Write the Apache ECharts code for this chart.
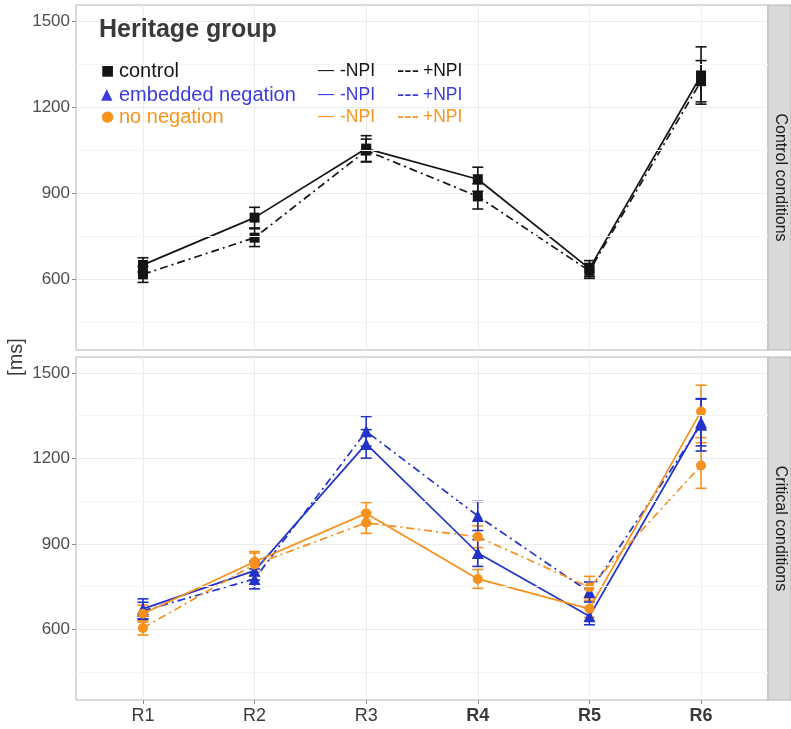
<!DOCTYPE html>
<html><head><meta charset="utf-8">
<script src="https://cdn.jsdelivr.net/npm/echarts@6/dist/echarts.min.js"></script>
<style>html,body{margin:0;padding:0;background:#fff}#c{width:791px;height:729px}</style>
</head><body><div id="c"></div>
<script>
// ---------- data ----------
const regions = ['R1','R2','R3','R4','R5','R6'];
const boldRegions = ['R4','R5','R6'];
const regionX = [1,2,3,4,5,6];
const yTicks = [600,900,1200,1500];
const yMinor = [450,750,1050,1350];
const panelTitles = ['Control conditions','Critical conditions'];
const yTitle = '[ms]';
const legendTitle = 'Heritage group';
const legendGroups = ['control','embedded negation','no negation'];
const legendGlyphs = ['■','▲','●'];
const legendLineNames = ['-NPI','+NPI'];
const legendLineKeys = ['—','---'];

// top panel: control condition
const ctrlMinus = [649, 814, 1055, 948, 636, 1310];
const ctrlMinusErr = [25, 36, 45, 42, 28, 100];
const ctrlPlus = [616, 744, 1048, 888, 628, 1290];
const ctrlPlusErr = [28, 31, 40, 44, 26, 72];
// bottom panel: embedded negation
const embMinus = [672, 806, 1251, 868, 646, 1326];
const embMinusErr = [35, 33, 50, 47, 30, 82];
const embPlus = [665, 777, 1295, 998, 731, 1318];
const embPlusErr = [30, 35, 52, 51, 35, 92];
// bottom panel: no negation
const noMinus = [655, 837, 1007, 777, 672, 1365];
const noMinusErr = [30, 36, 38, 33, 30, 92];
const noPlus = [605, 828, 974, 925, 748, 1175];
const noPlusErr = [25, 40, 37, 38, 38, 80];

// ---------- styling ----------
const C_BLACK = '#141414', C_BLUE = '#2233c8', C_ORANGE = '#f7901c';
const C_BLUE_TXT = '#3b3bdc', C_ORANGE_TXT = '#f7941d';
const FONT = 'Liberation Sans, Arial, sans-serif';
const DOTDASH = [8, 4, 2, 4];

const chart = echarts.init(document.getElementById('c'), null, {renderer: 'canvas'});

function pts(vals){ return vals.map((v,i)=>[regionX[i], v]); }
function errs(vals, e){ return vals.map((v,i)=>[regionX[i], v - e[i], v + e[i]]); }

function lineSeries(name, grid, vals, color, symbol, size, dashed){
  return {
    name, type: 'line', xAxisIndex: grid, yAxisIndex: grid,
    data: pts(vals), symbol, symbolSize: size,
    itemStyle: {color}, lineStyle: {color, width: 1.7, type: dashed ? DOTDASH : 'solid'},
    z: 4, silent: true, animation: false
  };
}
function errSeries(grid, vals, e, color){
  return {
    type: 'custom', xAxisIndex: grid, yAxisIndex: grid, data: errs(vals, e), z: 3,
    silent: true, animation: false,
    renderItem: function(params, api){
      const x = api.value(0), lo = api.value(1), hi = api.value(2);
      const a = api.coord([x, hi]), b = api.coord([x, lo]);
      const w = 5.5;
      const st = {stroke: color, lineWidth: 1.6, fill: null};
      return {type: 'group', children: [
        {type:'line', shape:{x1:a[0], y1:a[1], x2:b[0], y2:b[1]}, style: st},
        {type:'line', shape:{x1:a[0]-w, y1:a[1], x2:a[0]+w, y2:a[1]}, style: st},
        {type:'line', shape:{x1:b[0]-w, y1:b[1], x2:b[0]+w, y2:b[1]}, style: st}
      ]};
    }
  };
}
function minorSeries(grid){
  return {
    type: 'line', xAxisIndex: grid, yAxisIndex: grid, data: [], z: 1, silent: true,
    markLine: {silent: true, symbol: 'none', label: {show: false}, animation: false,
      lineStyle: {color: '#f4f4f4', width: 1, type: 'solid'},
      data: yMinor.map(v => ({yAxis: v}))}
  };
}

const grids = [
  {left: 76, top: 5, right: 23, height: 345, show: true, borderColor: '#b5b5b5', borderWidth: 1, backgroundColor: '#fff'},
  {left: 76, top: 357, right: 23, height: 343, show: true, borderColor: '#b5b5b5', borderWidth: 1, backgroundColor: '#fff'}
];

function xAxis(grid, showLabels){
  return {
    type: 'value', gridIndex: grid, min: 0.4, max: 6.6,
    axisLine: {show: false},
    axisTick: {show: showLabels, length: 4, lineStyle: {color: '#8a8a8a'}, customValues: regionX},
    axisLabel: {show: showLabels, customValues: regionX, margin: 7,
      formatter: function(v){ const r = regions[Math.round(v)-1]; return boldRegions.includes(r) ? '{b|'+r+'}' : '{n|'+r+'}'; },
      rich: {n: {fontSize: 18, color: '#3a3a3a', fontFamily: FONT}, b: {fontSize: 18, fontWeight: 'bold', color: '#3a3a3a', fontFamily: FONT}}},
    splitLine: {show: true, lineStyle: {color: '#ebebeb', width: 1}}
  };
}
function yAxis(grid){
  return {
    type: 'value', gridIndex: grid, min: 352, max: 1556,
    axisLine: {show: false},
    axisTick: {show: true, length: 4, lineStyle: {color: '#8a8a8a'}, customValues: yTicks},
    axisLabel: {customValues: yTicks, fontSize: 17, color: '#4d4d4d', fontFamily: FONT, margin: 6,
      formatter: function(v){ return String(Math.round(v)); }},
    splitLine: {show: true, lineStyle: {color: '#ebebeb', width: 1}}
  };
}

const series = [
  minorSeries(0), minorSeries(1),
  errSeries(0, ctrlMinus, ctrlMinusErr, C_BLACK),
  errSeries(0, ctrlPlus, ctrlPlusErr, C_BLACK),
  lineSeries('control -NPI', 0, ctrlMinus, C_BLACK, 'rect', 10, false),
  lineSeries('control +NPI', 0, ctrlPlus, C_BLACK, 'rect', 10, true),
  errSeries(1, noMinus, noMinusErr, C_ORANGE),
  errSeries(1, noPlus, noPlusErr, C_ORANGE),
  errSeries(1, embMinus, embMinusErr, C_BLUE),
  errSeries(1, embPlus, embPlusErr, C_BLUE),
  lineSeries('embedded negation -NPI', 1, embMinus, C_BLUE, 'triangle', 12, false),
  lineSeries('embedded negation +NPI', 1, embPlus, C_BLUE, 'triangle', 12, true),
  lineSeries('no negation -NPI', 1, noMinus, C_ORANGE, 'circle', 10, false),
  lineSeries('no negation +NPI', 1, noPlus, C_ORANGE, 'circle', 10, true)
];

// legend + strips as graphic text
const legendColors = [C_BLACK, C_BLUE_TXT, C_ORANGE_TXT];
const rowY = [71, 95, 117];
const graphic = [];
graphic.push({type:'text', left: 99, top: 18, style: {text: legendTitle, fontSize: 25, fontWeight: 'bold', fill: '#3a3a3a', fontFamily: FONT}, z: 10});
legendGroups.forEach((g, i) => {
  graphic.push({type:'text', x: 101, y: rowY[i], style: {text: legendGlyphs[i], fontSize: i===0?14:15, fill: legendColors[i], fontFamily: 'DejaVu Sans', verticalAlign: 'middle'}, z: 10});
  graphic.push({type:'text', x: 119, y: rowY[i], style: {text: g, fontSize: 20, fill: legendColors[i], fontFamily: FONT, verticalAlign: 'middle'}, z: 10});
  graphic.push({type:'text', x: 318, y: rowY[i], style: {text: legendLineKeys[0], fontSize: 16, fill: legendColors[i], fontFamily: FONT, verticalAlign: 'middle'}, z: 10});
  graphic.push({type:'text', x: 340, y: rowY[i], style: {text: legendLineNames[0], fontSize: 17.5, fill: legendColors[i], fontFamily: FONT, verticalAlign: 'middle'}, z: 10});
  graphic.push({type:'text', x: 397, y: rowY[i], style: {text: legendLineKeys[1], fontSize: 22, fill: legendColors[i], fontFamily: FONT, verticalAlign: 'middle'}, z: 10});
  graphic.push({type:'text', x: 423, y: rowY[i], style: {text: legendLineNames[1], fontSize: 17.5, fill: legendColors[i], fontFamily: FONT, verticalAlign: 'middle'}, z: 10});
});
const strips = [[5, 345], [357, 343]];
strips.forEach((s, i) => {
  graphic.push({type:'rect', shape: {x: 768, y: s[0], width: 23, height: s[1]}, style: {fill: '#d9d9d9', stroke: '#b5b5b5', lineWidth: 1}, z: 5});
  graphic.push({type:'text', x: 780, y: s[0] + s[1]/2, rotation: -Math.PI/2,
    style: {text: panelTitles[i], fontSize: 16, fill: '#1a1a1a', fontFamily: FONT, align: 'center', verticalAlign: 'middle'}, z: 6});
});
graphic.push({type:'text', x: 16, y: 357, rotation: Math.PI/2,
  style: {text: yTitle, fontSize: 20, fill: '#3a3a3a', fontFamily: FONT, align: 'center', verticalAlign: 'middle'}, z: 6});

chart.setOption({
  animation: false,
  backgroundColor: '#ffffff',
  grid: grids,
  xAxis: [xAxis(0, false), xAxis(1, true)],
  yAxis: [yAxis(0), yAxis(1)],
  series,
  graphic
});
</script></body></html>
